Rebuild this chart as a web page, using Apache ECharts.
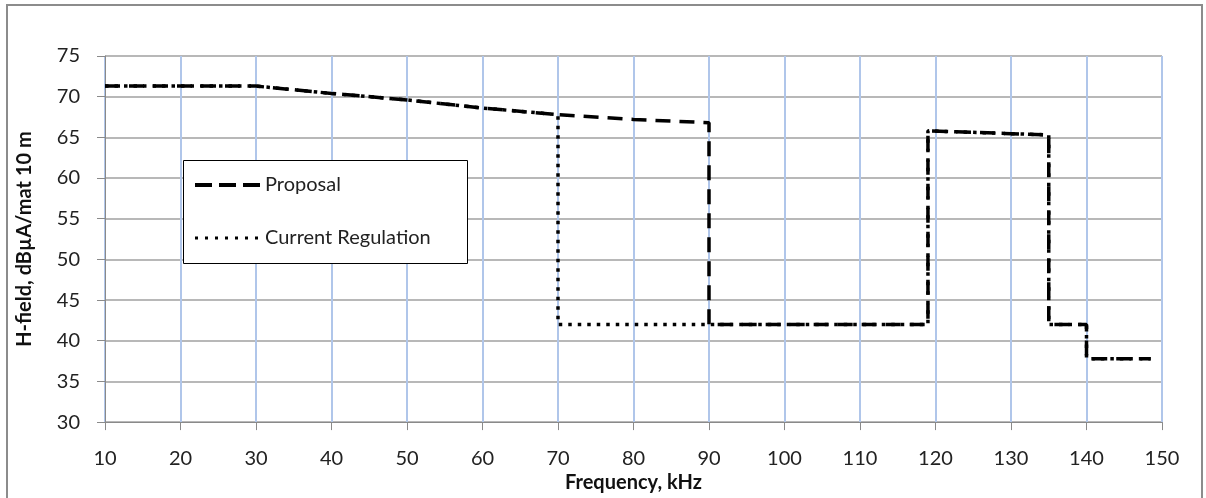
<!DOCTYPE html>
<html>
<head>
<meta charset="utf-8">
<script src="https://cdn.jsdelivr.net/npm/echarts@6/dist/echarts.min.js"></script>
<style>
  html, body { margin: 0; padding: 0; background: #fff; }
  #chart { width: 1206px; height: 498px; }
</style>
</head>
<body>
<div id="chart"></div>
<script>
// frequency (kHz) / H-field (dBuA/m at 10 m), stepwise limits
const proposalFreq = [10, 20, 30, 40, 50, 60, 70, 80, 90, 90, 119, 119, 135, 135, 140, 140, 148.5]
const proposalLevel = [71.3, 71.3, 71.3, 70.4, 69.6, 68.6, 67.8, 67.2, 66.8, 42, 42, 65.8, 65.3, 42, 42, 37.8, 37.8]

const currentFreq = [10, 20, 30, 40, 50, 60, 70, 70, 119, 119, 135, 135, 140, 140, 148.5]
const currentLevel = [71.3, 71.3, 71.3, 70.4, 69.6, 68.6, 67.8, 42, 42, 65.8, 65.3, 42, 42, 37.8, 37.8]

const seriesNames = ['Proposal', 'Current Regulation']

function pairs (xs, ys) {
  return xs.map((x, i) => [x, ys[i]])
}

const font = 'Lato, "Open Sans", sans-serif'
const chart = echarts.init(document.getElementById('chart'))

let option = {
  animation: false,
  backgroundColor: '#fff',
  textStyle: { fontFamily: font },
  grid: { left: 105, right: 44, top: 56, bottom: 71 },
  graphic: [
    {
      type: 'rect',
      z: 0,
      silent: true,
      shape: { x: 7, y: 5, width: 1195, height: 510 },
      style: { fill: 'none', stroke: '#8c8c8c', lineWidth: 2 }
    },
    {
      type: 'rect',
      z: 50,
      silent: true,
      shape: { x: 183.5, y: 160.5, width: 284, height: 103 },
      style: { fill: '#fff', stroke: '#000', lineWidth: 1 }
    }
  ],
  legend: {
    z: 60,
    orient: 'vertical',
    left: 193,
    top: 175,
    padding: 0,
    itemWidth: 65,
    itemHeight: 14,
    itemGap: 33,
    data: [
      { name: seriesNames[0], lineStyle: { width: 4, type: [17, 7] } },
      { name: seriesNames[1], lineStyle: { width: 3, type: [3, 7] } }
    ],
    itemStyle: { opacity: 0 },
    textStyle: { fontFamily: font, fontSize: 20, color: '#222', lineHeight: 20 }
  },
  xAxis: {
    type: 'value',
    min: 10,
    max: 150,
    interval: 10,
    name: 'Frequency, kHz',
    nameLocation: 'middle',
    nameGap: 50,
    nameTextStyle: { fontFamily: font, fontSize: 20, fontWeight: 'bold', color: '#111' },
    axisLine: { show: true, lineStyle: { color: '#8a8a8a', width: 1 } },
    axisTick: { show: true, length: 8, lineStyle: { color: '#8a8a8a' } },
    axisLabel: { fontFamily: font, fontSize: 20, color: '#222', margin: 26 },
    splitLine: { show: true, lineStyle: { color: '#b0c6ea', width: 2 } }
  },
  yAxis: {
    type: 'value',
    min: 30,
    max: 75,
    interval: 5,
    name: 'H-field, dBµA/mat 10 m',
    nameLocation: 'middle',
    nameGap: 70,
    nameTextStyle: { fontFamily: font, fontSize: 20, fontWeight: 'bold', color: '#111' },
    axisLine: { show: true, lineStyle: { color: '#8a8a8a', width: 1 } },
    axisTick: { show: true, length: 8, lineStyle: { color: '#8a8a8a' } },
    axisLabel: { fontFamily: font, fontSize: 20, color: '#222', margin: 25 },
    splitLine: { show: true, lineStyle: { color: '#a0a0a0', width: 1.5 } }
  },
  series: [
    {
      name: seriesNames[0],
      type: 'line',
      symbol: 'none',
      z: 3,
      data: pairs(proposalFreq, proposalLevel),
      lineStyle: { color: '#000', width: 3.5, type: [15, 9] },
      itemStyle: { color: '#000' }
    },
    {
      name: seriesNames[1],
      type: 'line',
      symbol: 'none',
      z: 3,
      data: pairs(currentFreq, currentLevel),
      lineStyle: { color: '#000', width: 3.5, type: [3.5, 6] },
      itemStyle: { color: '#000' }
    }
  ]
}

chart.setOption(option)
</script>
</body>
</html>
